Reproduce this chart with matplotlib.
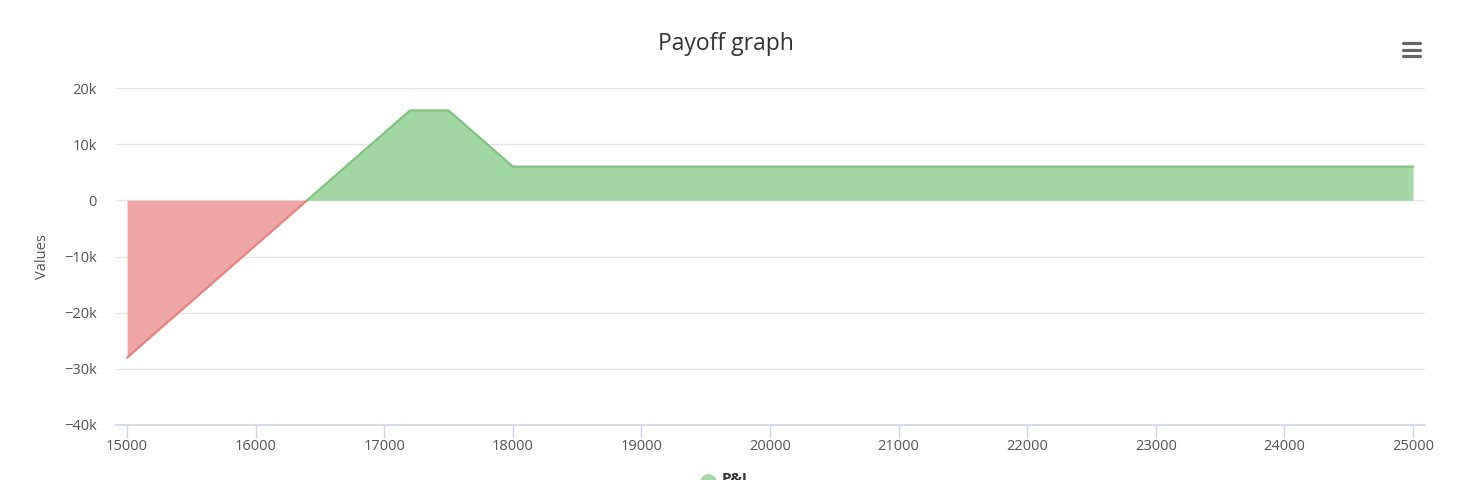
import numpy as np
import matplotlib.pyplot as plt
from matplotlib.lines import Line2D

# payoff curve (underlying price vs profit)
prices = [15000, 16400, 17200, 17500, 18000, 25000]
payoff = [-28000, 0, 16000, 16000, 6000, 6000]
series_name = "P&L"

xticks = list(range(15000, 25001, 1000))
yticks = [-40000, -30000, -20000, -10000, 0, 10000, 20000]
ylabels = ["−40k", "−30k", "−20k", "−10k", "0", "10k", "20k"]

green_fill = "#a3d8a5"
green_line = "#7cc47e"
red_fill = "#efa7a6"
red_line = "#e6837e"

plt.rcParams['font.family'] = ['Open Sans', 'DejaVu Sans']

W, H = 1472, 480
fig = plt.figure(figsize=(W / 100, H / 100), dpi=100)
ax = fig.add_axes([116 / W, 1 - 425 / H, (1425 - 116) / W, (425 - 88) / H])

x = np.array(prices, dtype=float)
y = np.array(payoff, dtype=float)
neg = y <= 0
pos = ~neg
pos[np.argmax(~neg) - 1] = True

ax.fill_between(x[neg], y[neg], 0, color=red_fill, lw=0, zorder=2)
ax.plot(x[neg], y[neg], color=red_line, lw=1.6, zorder=3, solid_capstyle='round')
ax.fill_between(x[pos], y[pos], 0, color=green_fill, lw=0, zorder=2)
ax.plot(x[pos], y[pos], color=green_line, lw=1.6, zorder=3, solid_capstyle='round')

ax.set_xlim(14914, 25093)
ax.set_ylim(-40000, 20000)
ax.set_xticks(xticks)
ax.set_xticklabels([str(t) for t in xticks])
ax.set_yticks(yticks)
ax.set_yticklabels(ylabels)
ax.grid(axis='y', color='#e6e6e6', lw=1, zorder=0)
ax.set_axisbelow(True)
for s in ['top', 'right', 'left']:
    ax.spines[s].set_visible(False)
ax.spines['bottom'].set_color('#ccd6eb')
ax.spines['bottom'].set_linewidth(1.2)
ax.tick_params(axis='x', colors='#ccd6eb', length=9, width=1, labelcolor='#555555',
               labelsize=10.5, pad=1)
ax.tick_params(axis='y', length=0, labelcolor='#555555', labelsize=10.5, pad=14)
ax.set_ylabel("Values", color='#555555', fontsize=10.5, labelpad=10)

fig.text(726 / W, 1 - 44 / H, "Payoff graph", ha='center', va='center',
         fontsize=16.5, color='#333333')

# menu icon
for yy in [43, 49.5, 56]:
    fig.add_artist(Line2D([1403 / W, 1420 / W], [1 - yy / H] * 2, color='#666666',
                          lw=2.3, solid_capstyle='round'))

# legend (partly cut off at bottom, as in the original)
fig.add_artist(Line2D([708 / W], [1 - 482 / H], marker='o', markersize=11,
                      color=green_fill, lw=0))
fig.text(722 / W, 1 - 479 / H, series_name, ha='left', va='center', fontsize=11,
         color='#333333', fontweight='bold')

fig.savefig("out.png", dpi=100)
